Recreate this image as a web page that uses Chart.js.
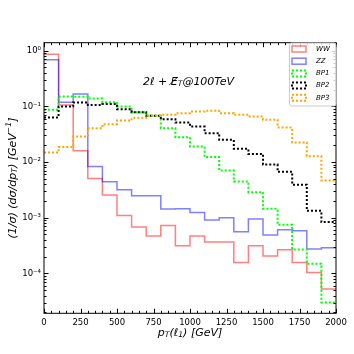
<!DOCTYPE html>
<html>
<head>
<meta charset="utf-8">
<script src="https://cdn.jsdelivr.net/npm/chart.js@4.4.1/dist/chart.umd.min.js"></script>
<style>
  html, body { margin: 0; padding: 0; background: #fff; }
  #wrap { width: 354px; height: 354px; }
</style>
</head>
<body>
<div id="wrap"><canvas id="chart" width="354" height="354"></canvas></div>
<script>
// bin edges in GeV (20 bins of 100 GeV)
const binEdges = [0, 100, 200, 300, 400, 500, 600, 700, 800, 900, 1000,
  1100, 1200, 1300, 1400, 1500, 1600, 1700, 1800, 1900, 2000];

// normalised distributions, one value per bin
const wwValues = [0.865, 0.106, 0.0159, 0.00506, 0.00255, 0.0011, 0.000678, 0.000468, 0.000725, 0.000313,
  0.000468, 0.000365, 0.000365, 0.000157, 0.000313, 0.000205, 0.000265, 0.000157, 0.000104, 0.0000523];
const zzValues = [0.684, 0.119, 0.166, 0.0083, 0.00441, 0.00317, 0.00247, 0.00247, 0.00143, 0.00145,
  0.00124, 0.000905, 0.000996, 0.000558, 0.000944, 0.000487, 0.000606, 0.000582, 0.000273, 0.000288];
const bp1Values = [0.0865, 0.15, 0.148, 0.138, 0.119, 0.0991, 0.0787, 0.0675, 0.0406, 0.028,
  0.019, 0.01225, 0.00703, 0.00447, 0.00288, 0.00145, 0.000746, 0.000269, 0.000149, 0.0000301];
const bp2Values = [0.063, 0.0991, 0.117, 0.106, 0.11, 0.0891, 0.0787, 0.0675, 0.0589, 0.0512,
  0.0434, 0.033, 0.025, 0.0173, 0.014, 0.00902, 0.00667, 0.0039, 0.00133, 0.000834];
const bp3Values = [0.0148, 0.0187, 0.0287, 0.0406, 0.0479, 0.0556, 0.0622, 0.0684, 0.0704, 0.0755,
  0.0807, 0.083, 0.0755, 0.0704, 0.0656, 0.0573, 0.0416, 0.0224, 0.01265, 0.00466];

const seriesLabels = ["WW", "ZZ", "BP1", "BP2", "BP3"];
const xTickValues = [0, 250, 500, 750, 1000, 1250, 1500, 1750, 2000];
const yTickValues = [1e-4, 1e-3, 1e-2, 1e-1, 1];
const yTickLabels = ["10\u207B\u2074", "10\u207B\u00B3", "10\u207B\u00B2", "10\u207B\u00B9", "10\u2070"];

const STYLES = [
  { color: "rgba(255, 0, 0, 0.5)", width: 1.5, dash: [] },
  { color: "rgba(0, 0, 255, 0.5)", width: 1.5, dash: [] },
  { color: "#00ff00", width: 2, dash: [2, 2] },
  { color: "#000000", width: 2, dash: [2, 2] },
  { color: "#ffa500", width: 2, dash: [2, 2] },
];

const FONT = "'DejaVu Sans', sans-serif";

function toSteps(values) {
  return binEdges.map((x, i) => ({ x: x, y: values[Math.min(i, values.length - 1)] }));
}

function drawRuns(ctx, runs, cx, cy) {
  let total = 0;
  runs.forEach((r) => {
    ctx.font = r.font;
    r.w = ctx.measureText(r.text).width;
    total += r.w;
  });
  let x = cx - total / 2;
  ctx.textAlign = "left";
  ctx.textBaseline = "middle";
  runs.forEach((r) => {
    ctx.font = r.font;
    ctx.fillText(r.text, x, cy + (r.dy || 0));
    x += r.w;
  });
}

const frameAndTicks = {
  id: "frameAndTicks",
  afterDatasetsDraw(chart) {
    const { ctx, chartArea: a, scales: { x, y } } = chart;
    ctx.save();
    ctx.strokeStyle = "#000";
    ctx.lineWidth = 1;
    ctx.beginPath();
    for (let v = 0; v <= 2000; v += 50) {
      const px = Math.round(x.getPixelForValue(v)) + 0.5;
      const len = v % 250 === 0 ? 4.5 : 2.5;
      ctx.moveTo(px, a.bottom); ctx.lineTo(px, a.bottom - len);
      ctx.moveTo(px, a.top); ctx.lineTo(px, a.top + len);
    }
    for (let e = -5; e <= 0; e++) {
      for (let m = 1; m < 10; m++) {
        const v = m * Math.pow(10, e);
        if (v < y.min || v > y.max) continue;
        const py = Math.round(y.getPixelForValue(v)) + 0.5;
        const len = m === 1 ? 4.5 : 2.5;
        ctx.moveTo(a.left, py); ctx.lineTo(a.left + len, py);
        ctx.moveTo(a.right, py); ctx.lineTo(a.right - len, py);
      }
    }
    ctx.stroke();
    ctx.strokeRect(a.left, a.top, a.right - a.left, a.bottom - a.top);

    // axis titles and annotation
    ctx.fillStyle = "#000";
    const it = (s) => "italic " + s + "px " + FONT;
    drawRuns(ctx, [
      { text: "p", font: it(11) },
      { text: "T", font: it(7.7), dy: 2.5 },
      { text: "(\u2113", font: it(11) },
      { text: "1", font: it(7.7), dy: 2.5 },
      { text: ") [GeV]", font: it(11) },
    ], (a.left + a.right) / 2, 333);

    ctx.save();
    ctx.translate(13, (a.top + a.bottom) / 2);
    ctx.rotate(-Math.PI / 2);
    drawRuns(ctx, [
      { text: "(1/\u03C3) (d\u03C3/dp", font: it(11) },
      { text: "T", font: it(7.7), dy: 2.5 },
      { text: ") [GeV", font: it(11) },
      { text: "\u22121", font: it(7.7), dy: -4 },
      { text: "]", font: it(11) },
    ], 0, 0);
    ctx.restore();

    drawRuns(ctx, [
      { text: "2\u2113 + E\u0338", font: it(11) },
      { text: "T", font: it(7.7), dy: 2.5 },
      { text: "@100TeV", font: it(11) },
    ], 188.5, 82);

    // legend
    const lx = 289.5, ly = 43, lw = 46.5, lh = 63;
    ctx.fillStyle = "rgba(255, 255, 255, 0.8)";
    ctx.strokeStyle = "#cccccc";
    ctx.beginPath();
    ctx.roundRect(lx, ly, lw, lh, 2);
    ctx.fill();
    ctx.stroke();
    const rows = [49, 61.2, 73.4, 85.6, 97.8];
    seriesLabels.forEach((label, i) => {
      const s = STYLES[i];
      ctx.strokeStyle = s.color;
      ctx.lineWidth = s.width;
      ctx.setLineDash(s.dash);
      ctx.strokeRect(292, rows[i] - 3, 14, 6);
      ctx.setLineDash([]);
      ctx.fillStyle = "#000";
      ctx.font = it(7);
      ctx.textAlign = "left";
      ctx.textBaseline = "middle";
      ctx.fillText(label, 316, rows[i]);
    });
    ctx.restore();
  },
};

const seriesValues = [wwValues, zzValues, bp1Values, bp2Values, bp3Values];

new Chart(document.getElementById("chart"), {
  type: "line",
  data: {
    datasets: seriesValues.map((vals, i) => ({
      label: seriesLabels[i],
      data: toSteps(vals),
      stepped: "before",
      borderColor: STYLES[i].color,
      borderWidth: STYLES[i].width,
      borderDash: STYLES[i].dash,
      borderCapStyle: "butt",
      pointRadius: 0,
      fill: false,
      order: 5 - i,
    })),
  },
  options: {
    responsive: false,
    animation: false,
    devicePixelRatio: 1,
    layout: { padding: { top: 42.7, right: 18, left: 0, bottom: 0 } },
    plugins: { legend: { display: false }, tooltip: { enabled: false } },
    scales: {
      x: {
        type: "linear",
        min: 0,
        max: 2000,
        grid: { display: false, drawTicks: false },
        border: { display: false },
        ticks: {
          font: { family: FONT, size: 8.5 },
          color: "#000",
          padding: 4,
          maxRotation: 0,
          autoSkip: false,
          callback: (v) => String(v),
        },
        afterBuildTicks: (s) => { s.ticks = xTickValues.map((v) => ({ value: v })); },
        afterFit: (s) => { s.height = 40.7; },
      },
      y: {
        type: "logarithmic",
        min: 1.92e-5,
        max: 1.39,
        grid: { display: false, drawTicks: false },
        border: { display: false },
        ticks: {
          font: { family: FONT, size: 8.5 },
          color: "#000",
          padding: 3,
          autoSkip: false,
          callback: (v) => yTickLabels[yTickValues.indexOf(v)] || "",
        },
        afterBuildTicks: (s) => { s.ticks = yTickValues.map((v) => ({ value: v })); },
        afterFit: (s) => { s.width = 44; },
      },
    },
  },
  plugins: [frameAndTicks],
});
</script>
</body>
</html>
